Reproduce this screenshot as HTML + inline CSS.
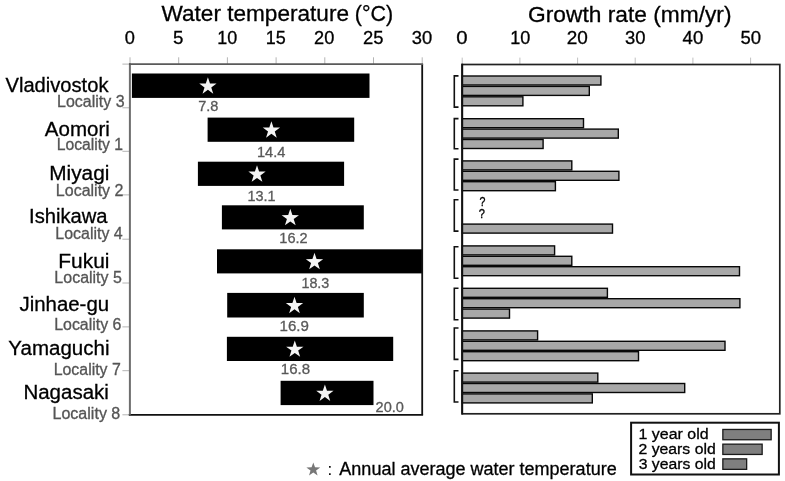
<!DOCTYPE html>
<html><head><meta charset="utf-8"><style>
html,body{margin:0;padding:0;background:#fff;width:785px;height:481px;overflow:hidden}
svg{display:block;filter:grayscale(1)}
text{font-family:"Liberation Sans", sans-serif}
</style></head><body>
<svg width="785" height="481" viewBox="0 0 785 481">
<rect width="785" height="481" fill="#fff"/>
<text x="161.49" y="20.8" font-size="22.5" fill="#000" stroke="#000" stroke-width="0.3" textLength="187.52" lengthAdjust="spacingAndGlyphs">Water temperature</text>
<text x="354.86" y="20.8" font-size="22.5" fill="#000" stroke="#000" stroke-width="0.3" textLength="38.29" lengthAdjust="spacingAndGlyphs">(°C)</text>
<text x="528.06" y="21.6" font-size="22.5" fill="#000" stroke="#000" stroke-width="0.3" textLength="203.46" lengthAdjust="spacingAndGlyphs">Growth rate (mm/yr)</text>
<text x="124.67" y="43.6" font-size="18" fill="#000" stroke="#000" stroke-width="0.3" textLength="10.13" lengthAdjust="spacingAndGlyphs">0</text>
<text x="173.05" y="43.6" font-size="18" fill="#000" stroke="#000" stroke-width="0.3" textLength="10.42" lengthAdjust="spacingAndGlyphs">5</text>
<text x="217.25" y="43.6" font-size="18" fill="#000" stroke="#000" stroke-width="0.3" textLength="19.96" lengthAdjust="spacingAndGlyphs">10</text>
<text x="265.75" y="43.6" font-size="18" fill="#000" stroke="#000" stroke-width="0.3" textLength="20.01" lengthAdjust="spacingAndGlyphs">15</text>
<text x="314.09" y="43.6" font-size="18" fill="#000" stroke="#000" stroke-width="0.3" textLength="20.23" lengthAdjust="spacingAndGlyphs">20</text>
<text x="362.98" y="43.6" font-size="18" fill="#000" stroke="#000" stroke-width="0.3" textLength="20.50" lengthAdjust="spacingAndGlyphs">25</text>
<text x="411.81" y="43.6" font-size="18" fill="#000" stroke="#000" stroke-width="0.3" textLength="20.42" lengthAdjust="spacingAndGlyphs">30</text>
<line x1="130.0" y1="57.3" x2="130.0" y2="64" stroke="#b4b4b4" stroke-width="1"/>
<line x1="178.7" y1="57.3" x2="178.7" y2="64" stroke="#b4b4b4" stroke-width="1"/>
<line x1="227.4" y1="57.3" x2="227.4" y2="64" stroke="#b4b4b4" stroke-width="1"/>
<line x1="276.1" y1="57.3" x2="276.1" y2="64" stroke="#b4b4b4" stroke-width="1"/>
<line x1="324.8" y1="57.3" x2="324.8" y2="64" stroke="#b4b4b4" stroke-width="1"/>
<line x1="373.5" y1="57.3" x2="373.5" y2="64" stroke="#b4b4b4" stroke-width="1"/>
<line x1="422.2" y1="57.3" x2="422.2" y2="64" stroke="#b4b4b4" stroke-width="1"/>
<line x1="122.4" y1="64.1" x2="130" y2="64.1" stroke="#b4b4b4" stroke-width="1"/>
<line x1="122.4" y1="107.8" x2="130" y2="107.8" stroke="#b4b4b4" stroke-width="1"/>
<line x1="122.4" y1="151.3" x2="130" y2="151.3" stroke="#b4b4b4" stroke-width="1"/>
<line x1="122.4" y1="194.9" x2="130" y2="194.9" stroke="#b4b4b4" stroke-width="1"/>
<line x1="122.4" y1="239.2" x2="130" y2="239.2" stroke="#b4b4b4" stroke-width="1"/>
<line x1="122.4" y1="283.0" x2="130" y2="283.0" stroke="#b4b4b4" stroke-width="1"/>
<line x1="122.4" y1="326.9" x2="130" y2="326.9" stroke="#b4b4b4" stroke-width="1"/>
<line x1="122.4" y1="370.7" x2="130" y2="370.7" stroke="#b4b4b4" stroke-width="1"/>
<line x1="122.4" y1="414.8" x2="130" y2="414.8" stroke="#b4b4b4" stroke-width="1"/>
<rect x="131.9" y="73.5" width="237.6" height="24.4" fill="#000"/>
<polygon points="207.90,77.20 209.99,83.43 216.55,83.49 211.28,87.40 213.25,93.66 207.90,89.85 202.55,93.66 204.52,87.40 199.25,83.49 205.81,83.43" fill="#f4f4f4"/>
<text x="198.24" y="110.9" font-size="14.5" fill="#595959" stroke="#595959" stroke-width="0.3" textLength="20.18" lengthAdjust="spacingAndGlyphs">7.8</text>
<text x="5.50" y="92.1" font-size="20" fill="#000" stroke="#000" stroke-width="0.3" textLength="102.98" lengthAdjust="spacingAndGlyphs">Vladivostok</text>
<text x="57.08" y="106.9" font-size="15.6" fill="#555555" stroke="#555555" stroke-width="0.3" textLength="67.53" lengthAdjust="spacingAndGlyphs">Locality 3</text>
<rect x="207.6" y="117.6" width="146.6" height="24.2" fill="#000"/>
<polygon points="271.40,121.20 273.49,127.43 280.05,127.49 274.78,131.40 276.75,137.66 271.40,133.85 266.05,137.66 268.02,131.40 262.75,127.49 269.31,127.43" fill="#f4f4f4"/>
<text x="256.91" y="156.6" font-size="14.5" fill="#595959" stroke="#595959" stroke-width="0.3" textLength="28.42" lengthAdjust="spacingAndGlyphs">14.4</text>
<text x="44.85" y="135.8" font-size="20" fill="#000" stroke="#000" stroke-width="0.3" textLength="65.04" lengthAdjust="spacingAndGlyphs">Aomori</text>
<text x="56.70" y="149.6" font-size="15.6" fill="#555555" stroke="#555555" stroke-width="0.3" textLength="66.38" lengthAdjust="spacingAndGlyphs">Locality 1</text>
<rect x="197.9" y="161.7" width="146.2" height="24.2" fill="#000"/>
<polygon points="257.00,165.30 259.09,171.53 265.65,171.59 260.38,175.50 262.35,181.76 257.00,177.95 251.65,181.76 253.62,175.50 248.35,171.59 254.91,171.53" fill="#f4f4f4"/>
<text x="247.42" y="200.7" font-size="14.5" fill="#595959" stroke="#595959" stroke-width="0.3" textLength="28.09" lengthAdjust="spacingAndGlyphs">13.1</text>
<text x="49.28" y="179.6" font-size="20" fill="#000" stroke="#000" stroke-width="0.3" textLength="60.11" lengthAdjust="spacingAndGlyphs">Miyagi</text>
<text x="55.88" y="196.0" font-size="15.6" fill="#555555" stroke="#555555" stroke-width="0.3" textLength="67.55" lengthAdjust="spacingAndGlyphs">Locality 2</text>
<rect x="221.9" y="205.3" width="141.9" height="24.1" fill="#000"/>
<polygon points="290.30,208.85 292.39,215.08 298.95,215.14 293.68,219.05 295.65,225.31 290.30,221.50 284.95,225.31 286.92,219.05 281.65,215.14 288.21,215.08" fill="#f4f4f4"/>
<text x="279.31" y="242.9" font-size="14.5" fill="#595959" stroke="#595959" stroke-width="0.3" textLength="28.34" lengthAdjust="spacingAndGlyphs">16.2</text>
<text x="29.03" y="223.2" font-size="20" fill="#000" stroke="#000" stroke-width="0.3" textLength="78.58" lengthAdjust="spacingAndGlyphs">Ishikawa</text>
<text x="55.39" y="238.6" font-size="15.6" fill="#555555" stroke="#555555" stroke-width="0.3" textLength="67.29" lengthAdjust="spacingAndGlyphs">Locality 4</text>
<rect x="217.0" y="249.3" width="205.2" height="24.1" fill="#000"/>
<polygon points="314.50,252.85 316.59,259.08 323.15,259.14 317.88,263.05 319.85,269.31 314.50,265.50 309.15,269.31 311.12,263.05 305.85,259.14 312.41,259.08" fill="#f4f4f4"/>
<text x="301.42" y="287.9" font-size="14.5" fill="#595959" stroke="#595959" stroke-width="0.3" textLength="27.90" lengthAdjust="spacingAndGlyphs">18.3</text>
<text x="58.38" y="267.9" font-size="20" fill="#000" stroke="#000" stroke-width="0.3" textLength="51.04" lengthAdjust="spacingAndGlyphs">Fukui</text>
<text x="54.38" y="283.2" font-size="15.6" fill="#555555" stroke="#555555" stroke-width="0.3" textLength="67.49" lengthAdjust="spacingAndGlyphs">Locality 5</text>
<rect x="227.2" y="292.9" width="136.6" height="24.6" fill="#000"/>
<polygon points="294.50,296.70 296.59,302.93 303.15,302.99 297.88,306.90 299.85,313.16 294.50,309.35 289.15,313.16 291.12,306.90 285.85,302.99 292.41,302.93" fill="#f4f4f4"/>
<text x="279.57" y="331.3" font-size="14.5" fill="#595959" stroke="#595959" stroke-width="0.3" textLength="29.33" lengthAdjust="spacingAndGlyphs">16.9</text>
<text x="19.49" y="311.4" font-size="20" fill="#000" stroke="#000" stroke-width="0.3" textLength="89.58" lengthAdjust="spacingAndGlyphs">Jinhae-gu</text>
<text x="54.19" y="330.3" font-size="15.6" fill="#555555" stroke="#555555" stroke-width="0.3" textLength="67.23" lengthAdjust="spacingAndGlyphs">Locality 6</text>
<rect x="226.9" y="336.8" width="166.3" height="24.2" fill="#000"/>
<polygon points="294.80,340.40 296.89,346.63 303.45,346.69 298.18,350.60 300.15,356.86 294.80,353.05 289.45,356.86 291.42,350.60 286.15,346.69 292.71,346.63" fill="#f4f4f4"/>
<text x="280.77" y="374.4" font-size="14.5" fill="#595959" stroke="#595959" stroke-width="0.3" textLength="29.29" lengthAdjust="spacingAndGlyphs">16.8</text>
<text x="8.34" y="355.1" font-size="20" fill="#000" stroke="#000" stroke-width="0.3" textLength="101.12" lengthAdjust="spacingAndGlyphs">Yamaguchi</text>
<text x="53.69" y="375.09999999999997" font-size="15.6" fill="#555555" stroke="#555555" stroke-width="0.3" textLength="67.14" lengthAdjust="spacingAndGlyphs">Locality 7</text>
<rect x="280.6" y="380.8" width="92.9" height="24.3" fill="#000"/>
<polygon points="324.90,384.45 326.99,390.68 333.55,390.74 328.28,394.65 330.25,400.91 324.90,397.10 319.55,400.91 321.52,394.65 316.25,390.74 322.81,390.68" fill="#f4f4f4"/>
<text x="375.57" y="412.4" font-size="14.5" fill="#595959" stroke="#595959" stroke-width="0.3" textLength="28.29" lengthAdjust="spacingAndGlyphs">20.0</text>
<text x="23.41" y="399.3" font-size="20" fill="#000" stroke="#000" stroke-width="0.3" textLength="85.46" lengthAdjust="spacingAndGlyphs">Nagasaki</text>
<text x="52.48" y="419.0" font-size="15.6" fill="#555555" stroke="#555555" stroke-width="0.3" textLength="67.84" lengthAdjust="spacingAndGlyphs">Locality 8</text>
<line x1="422.2" y1="64.1" x2="422.2" y2="414.8" stroke="#111" stroke-width="1.8"/>
<line x1="128.8" y1="414.8" x2="423.1" y2="414.8" stroke="#111" stroke-width="1.7"/>
<line x1="129.9" y1="63.2" x2="129.9" y2="414.8" stroke="#6e6e6e" stroke-width="2"/>
<line x1="129" y1="64.1" x2="423.1" y2="64.1" stroke="#5a5a5a" stroke-width="1.8"/>
<text x="456.29" y="43.6" font-size="18" fill="#000" stroke="#000" stroke-width="0.3" textLength="11.30" lengthAdjust="spacingAndGlyphs">0</text>
<text x="510.15" y="43.6" font-size="18" fill="#000" stroke="#000" stroke-width="0.3" textLength="20.07" lengthAdjust="spacingAndGlyphs">10</text>
<text x="566.75" y="43.6" font-size="18" fill="#000" stroke="#000" stroke-width="0.3" textLength="21.10" lengthAdjust="spacingAndGlyphs">20</text>
<text x="625.11" y="43.6" font-size="18" fill="#000" stroke="#000" stroke-width="0.3" textLength="20.53" lengthAdjust="spacingAndGlyphs">30</text>
<text x="682.58" y="43.6" font-size="18" fill="#000" stroke="#000" stroke-width="0.3" textLength="20.66" lengthAdjust="spacingAndGlyphs">40</text>
<text x="740.56" y="43.6" font-size="18" fill="#000" stroke="#000" stroke-width="0.3" textLength="20.58" lengthAdjust="spacingAndGlyphs">50</text>
<line x1="462.2" y1="57.6" x2="462.2" y2="64" stroke="#c0c0c0" stroke-width="1"/>
<line x1="519.9" y1="57.6" x2="519.9" y2="64" stroke="#c0c0c0" stroke-width="1"/>
<line x1="577.6" y1="57.6" x2="577.6" y2="64" stroke="#c0c0c0" stroke-width="1"/>
<line x1="635.2" y1="57.6" x2="635.2" y2="64" stroke="#c0c0c0" stroke-width="1"/>
<line x1="692.9" y1="57.6" x2="692.9" y2="64" stroke="#c0c0c0" stroke-width="1"/>
<line x1="750.6" y1="57.6" x2="750.6" y2="64" stroke="#c0c0c0" stroke-width="1"/>
<rect x="462.2" y="76.00" width="138.70" height="9.00" fill="#a8a8a8" stroke="#080808" stroke-width="1.4"/>
<rect x="462.2" y="86.40" width="127.10" height="9.00" fill="#a8a8a8" stroke="#080808" stroke-width="1.4"/>
<rect x="462.2" y="96.80" width="60.70" height="9.00" fill="#a8a8a8" stroke="#080808" stroke-width="1.4"/>
<rect x="462.2" y="118.70" width="121.30" height="9.00" fill="#a8a8a8" stroke="#080808" stroke-width="1.4"/>
<rect x="462.2" y="129.10" width="156.10" height="9.00" fill="#a8a8a8" stroke="#080808" stroke-width="1.4"/>
<rect x="462.2" y="139.50" width="80.90" height="9.00" fill="#a8a8a8" stroke="#080808" stroke-width="1.4"/>
<rect x="462.2" y="160.90" width="109.60" height="9.00" fill="#a8a8a8" stroke="#080808" stroke-width="1.4"/>
<rect x="462.2" y="171.30" width="156.70" height="9.00" fill="#a8a8a8" stroke="#080808" stroke-width="1.4"/>
<rect x="462.2" y="181.70" width="93.20" height="9.00" fill="#a8a8a8" stroke="#080808" stroke-width="1.4"/>
<rect x="462.2" y="224.10" width="150.30" height="9.00" fill="#a8a8a8" stroke="#080808" stroke-width="1.4"/>
<rect x="462.2" y="245.90" width="92.40" height="9.00" fill="#a8a8a8" stroke="#080808" stroke-width="1.4"/>
<rect x="462.2" y="256.30" width="109.60" height="9.00" fill="#a8a8a8" stroke="#080808" stroke-width="1.4"/>
<rect x="462.2" y="266.70" width="277.30" height="9.00" fill="#a8a8a8" stroke="#080808" stroke-width="1.4"/>
<rect x="462.2" y="288.30" width="145.20" height="9.00" fill="#a8a8a8" stroke="#080808" stroke-width="1.4"/>
<rect x="462.2" y="298.70" width="277.70" height="9.00" fill="#a8a8a8" stroke="#080808" stroke-width="1.4"/>
<rect x="462.2" y="309.10" width="47.30" height="9.00" fill="#a8a8a8" stroke="#080808" stroke-width="1.4"/>
<rect x="462.2" y="330.90" width="75.40" height="9.00" fill="#a8a8a8" stroke="#080808" stroke-width="1.4"/>
<rect x="462.2" y="341.30" width="262.80" height="9.00" fill="#a8a8a8" stroke="#080808" stroke-width="1.4"/>
<rect x="462.2" y="351.70" width="176.30" height="9.00" fill="#a8a8a8" stroke="#080808" stroke-width="1.4"/>
<rect x="462.2" y="373.10" width="135.60" height="9.00" fill="#a8a8a8" stroke="#080808" stroke-width="1.4"/>
<rect x="462.2" y="383.50" width="222.50" height="9.00" fill="#a8a8a8" stroke="#080808" stroke-width="1.4"/>
<rect x="462.2" y="393.90" width="130.10" height="9.00" fill="#a8a8a8" stroke="#080808" stroke-width="1.4"/>
<polyline points="458.5,75.9 454.3,75.9 454.3,107.1 458.5,107.1" fill="none" stroke="#111" stroke-width="1.6"/>
<polyline points="458.5,118.6 454.3,118.6 454.3,148.7 458.5,148.7" fill="none" stroke="#111" stroke-width="1.6"/>
<polyline points="458.5,159.1 454.3,159.1 454.3,190.0 458.5,190.0" fill="none" stroke="#111" stroke-width="1.6"/>
<polyline points="458.5,199.7 454.3,199.7 454.3,231.1 458.5,231.1" fill="none" stroke="#111" stroke-width="1.6"/>
<polyline points="458.5,246.7 454.3,246.7 454.3,278.3 458.5,278.3" fill="none" stroke="#111" stroke-width="1.6"/>
<polyline points="458.5,288.3 454.3,288.3 454.3,319.8 458.5,319.8" fill="none" stroke="#111" stroke-width="1.6"/>
<polyline points="458.5,328.0 454.3,328.0 454.3,359.4 458.5,359.4" fill="none" stroke="#111" stroke-width="1.6"/>
<polyline points="458.5,370.8 454.3,370.8 454.3,402.0 458.5,402.0" fill="none" stroke="#111" stroke-width="1.6"/>
<text x="479.47" y="205.6" font-size="13" fill="#000" stroke="#000" stroke-width="0.35" textLength="5.91" lengthAdjust="spacingAndGlyphs">?</text>
<text x="478.76" y="218.4" font-size="13" fill="#000" stroke="#000" stroke-width="0.35" textLength="6.14" lengthAdjust="spacingAndGlyphs">?</text>
<rect x="462.2" y="64.5" width="317.6" height="349.3" fill="none" stroke="#222" stroke-width="1.7"/>
<line x1="462.2" y1="63.7" x2="462.2" y2="414.6" stroke="#111" stroke-width="1.9"/>
<rect x="631.1" y="422.7" width="147.8" height="51.8" fill="#fff" stroke="#111" stroke-width="2"/>
<text x="638.50" y="439.4" font-size="15.5" fill="#000" stroke="#000" stroke-width="0.3" textLength="70.12" lengthAdjust="spacingAndGlyphs">1 year old</text>
<rect x="722.85" y="429.45" width="48.3" height="10.3" fill="#7f7f7f" stroke="#1a1a1a" stroke-width="1.3"/>
<text x="638.51" y="454.1" font-size="15.5" fill="#000" stroke="#000" stroke-width="0.3" textLength="77.20" lengthAdjust="spacingAndGlyphs">2 years old</text>
<rect x="722.85" y="444.15" width="39.3" height="10.3" fill="#7f7f7f" stroke="#1a1a1a" stroke-width="1.3"/>
<text x="638.71" y="468.5" font-size="15.5" fill="#000" stroke="#000" stroke-width="0.3" textLength="77.00" lengthAdjust="spacingAndGlyphs">3 years old</text>
<rect x="722.85" y="458.84999999999997" width="23.8" height="10.5" fill="#7f7f7f" stroke="#1a1a1a" stroke-width="1.3"/>
<polygon points="313.30,462.40 315.02,467.34 320.24,467.44 316.08,470.60 317.59,475.61 313.30,472.62 309.01,475.61 310.52,470.60 306.36,467.44 311.58,467.34" fill="#777"/>
<text x="329.9" y="475" font-size="17" text-anchor="middle">:</text>
<text x="339.35" y="474.8" font-size="18" fill="#000" stroke="#000" stroke-width="0.3" textLength="277.33" lengthAdjust="spacingAndGlyphs">Annual average water temperature</text>
</svg>
</body></html>
